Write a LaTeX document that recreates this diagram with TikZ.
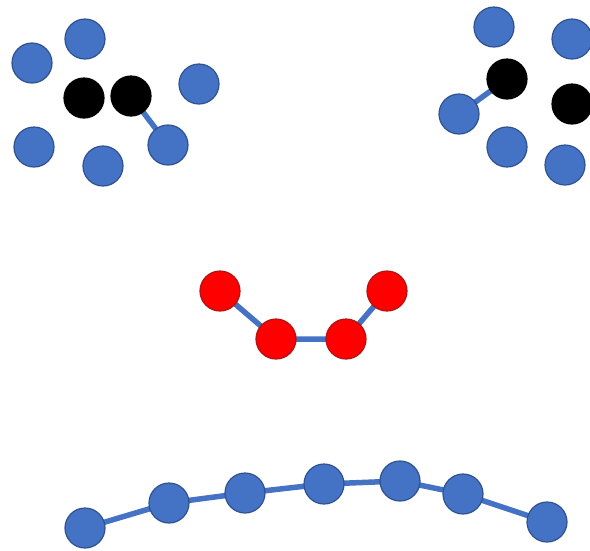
\documentclass[tikz,border=0pt]{standalone}
\usetikzlibrary{backgrounds}
\begin{document}
\begin{tikzpicture}[x=1pt,y=-1pt,
  atom/.style={circle,minimum size=40pt,inner sep=0pt,line width=1.2pt},
  blueatom/.style={atom,fill={rgb,255:red,68;green,114;blue,196},draw={rgb,255:red,47;green,82;blue,143}},
  blackatom/.style={atom,fill=black,draw=black},
  redatom/.style={atom,fill=red,draw={rgb,255:red,175;green,20;blue,20}},
  bond/.style={line width=5.5pt,draw={rgb,255:red,68;green,114;blue,196}}]
\useasboundingbox (0,0) rectangle (590,550);
\clip (0,0) rectangle (590,550);

% upper left cluster
\node[blueatom] (a1) at (32,63) {};
\node[blueatom] (a2) at (85,39) {};
\node[blackatom] (a3) at (84,98) {};
\node[blackatom] (a4) at (131,96) {};
\node[blueatom] (a5) at (199,84) {};
\node[blueatom] (a6) at (34,147) {};
\node[blueatom] (a7) at (103,166) {};
\node[blueatom] (a8) at (168,145) {};

% upper right cluster
\node[blueatom] (b1) at (494,27) {};
\node[blueatom] (b2) at (572,39) {};
\node[blackatom] (b3) at (507,79) {};
\node[blackatom] (b4) at (572,104) {};
\node[blueatom] (b5) at (459,114) {};
\node[blueatom] (b6) at (507,147) {};
\node[blueatom] (b7) at (565,165) {};

% red chain
\node[redatom] (r1) at (220,291) {};
\node[redatom] (r2) at (276,339) {};
\node[redatom] (r3) at (346,339) {};
\node[redatom] (r4) at (387,291) {};

% lower chain
\node[blueatom] (c1) at (85,528) {};
\node[blueatom] (c2) at (169,503) {};
\node[blueatom] (c3) at (245,493) {};
\node[blueatom] (c4) at (324,484) {};
\node[blueatom] (c5) at (400,481) {};
\node[blueatom] (c6) at (463,494) {};
\node[blueatom] (c7) at (547,522) {};

% bonds, kept behind the atoms
\begin{scope}[on background layer]
\draw[bond] (a4.center) -- (a8.center);
\draw[bond] (b3.center) -- (b5.center);
\draw[bond] (r1.center) -- (r2.center) -- (r3.center) -- (r4.center);
\draw[bond] (c1.center) -- (c2.center) -- (c3.center) -- (c4.center)
  -- (c5.center) -- (c6.center) -- (c7.center);
\end{scope}
\end{tikzpicture}
\end{document}
